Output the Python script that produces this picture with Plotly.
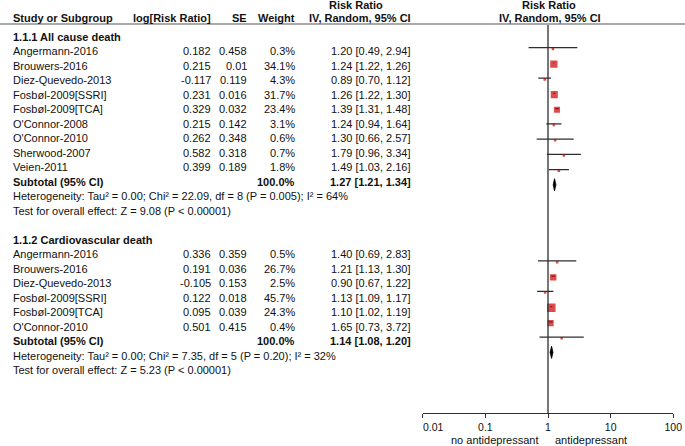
import plotly.graph_objects as go

# ---------------- data ----------------
group1_title = "1.1.1 All cause death"
studies1 = ["Angermann-2016", "Brouwers-2016", "Diez-Quevedo-2013", "Fosbøl-2009[SSRI]",
            "Fosbøl-2009[TCA]", "O'Connor-2008", "O'Connor-2010", "Sherwood-2007", "Veien-2011"]
logrr1 = [0.182, 0.215, -0.117, 0.231, 0.329, 0.215, 0.262, 0.582, 0.399]
se1 = [0.458, 0.01, 0.119, 0.016, 0.032, 0.142, 0.348, 0.318, 0.189]
weight1 = [0.3, 34.1, 4.3, 31.7, 23.4, 3.1, 0.6, 0.7, 1.8]
rr1 = [1.20, 1.24, 0.89, 1.26, 1.39, 1.24, 1.30, 1.79, 1.49]
lo1 = [0.49, 1.22, 0.70, 1.22, 1.31, 0.94, 0.66, 0.96, 1.03]
hi1 = [2.94, 1.26, 1.12, 1.30, 1.48, 1.64, 2.57, 3.34, 2.16]
sub1 = [1.27, 1.21, 1.34]
het1 = "Heterogeneity: Tau² = 0.00; Chi² = 22.09, df = 8 (P = 0.005); I² = 64%"
test1 = "Test for overall effect: Z = 9.08 (P < 0.00001)"

group2_title = "1.1.2 Cardiovascular death"
studies2 = ["Angermann-2016", "Brouwers-2016", "Diez-Quevedo-2013", "Fosbøl-2009[SSRI]",
            "Fosbøl-2009[TCA]", "O'Connor-2010"]
logrr2 = [0.336, 0.191, -0.105, 0.122, 0.095, 0.501]
se2 = [0.359, 0.036, 0.153, 0.018, 0.039, 0.415]
weight2 = [0.5, 26.7, 2.5, 45.7, 24.3, 0.4]
rr2 = [1.40, 1.21, 0.90, 1.13, 1.10, 1.65]
lo2 = [0.69, 1.13, 0.67, 1.09, 1.02, 0.73]
hi2 = [2.83, 1.30, 1.22, 1.17, 1.19, 3.72]
sub2 = [1.14, 1.08, 1.20]
het2 = "Heterogeneity: Tau² = 0.00; Chi² = 7.35, df = 5 (P = 0.20); I² = 32%"
test2 = "Test for overall effect: Z = 5.23 (P < 0.00001)"

tick_vals = [0.01, 0.1, 1, 10, 100]
tick_labels = ["0.01", "0.1", "1", "10", "100"]
left_label = "no antidepressant"
right_label = "antidepressant"

# ---------------- layout constants ----------------
W, H = 685, 446
FONT = "Liberation Sans, Arial, sans-serif"
TXT = "#111111"
LINE = "#2e2e2e"
RED = "#cc0000"
FS = 11


def px(x):
    return x / W


def py(y):
    return 1 - y / H


groups = [
    dict(title=group1_title, studies=studies1, logrr=logrr1, se=se1, w=weight1,
         rr=rr1, lo=lo1, hi=hi1, sub=sub1, het=het1, test=test1),
    dict(title=group2_title, studies=studies2, logrr=logrr2, se=se2, w=weight2,
         rr=rr2, lo=lo2, hi=hi2, sub=sub2, het=het2, test=test2),
]

fig = go.Figure()
ann = []


def text(x, y, s, anchor="left", bold=False, yref="y2", size=FS):
    ann.append(dict(x=px(x), xref="paper", y=y, yref=yref, text=(f"<b>{s}</b>" if bold else s),
                    showarrow=False, xanchor=anchor, yanchor="middle",
                    font=dict(family=FONT, size=size, color=TXT)))


row = 0
for g in groups:
    text(11, row, g["title"], bold=True)
    row += 1
    ci_x, ci_y = [], []
    mk_x, mk_y, mk_s = [], [], []
    for i, name in enumerate(g["studies"]):
        text(11, row, name)
        text(213, row, str(g["logrr"][i]), anchor="right")
        text(249, row, str(g["se"][i]), anchor="right")
        text(297, row, f"{g['w'][i]:.1f}%", anchor="right")
        text(413, row, f"{g['rr'][i]:.2f} [{g['lo'][i]:.2f}, {g['hi'][i]:.2f}]", anchor="right")
        ci_x += [g["lo"][i], g["hi"][i], None]
        ci_y += [row, row, None]
        mk_x.append(g["rr"][i])
        mk_y.append(row + 0.08)
        mk_s.append(max(2.5, 1.25 * g["w"][i] ** 0.5))
        row += 1
    fig.add_trace(go.Scatter(x=ci_x, y=ci_y, mode="lines", line=dict(color=LINE, width=1.3),
                             hoverinfo="skip", xaxis="x", yaxis="y"))
    fig.add_trace(go.Scatter(x=mk_x, y=mk_y, mode="markers",
                             marker=dict(symbol="square", size=mk_s, color=RED, line=dict(width=0)),
                             hoverinfo="skip", xaxis="x", yaxis="y"))
    est, lo, hi = g["sub"]
    text(11, row, "Subtotal (95% CI)", bold=True)
    text(297, row, "100.0%", anchor="right", bold=True)
    text(413, row, f"{est:.2f} [{lo:.2f}, {hi:.2f}]", anchor="right", bold=True)
    h = 0.4
    fig.add_trace(go.Scatter(x=[lo, est, hi, est, lo], y=[row, row - h, row, row + h, row],
                             mode="lines", fill="toself", fillcolor="black",
                             line=dict(color="black", width=0.8), hoverinfo="skip",
                             xaxis="x", yaxis="y"))
    row += 1
    text(11, row, g["het"])
    row += 1
    text(11, row, g["test"])
    row += 2

fig.add_trace(go.Scatter(x=[1], y=[0], mode="markers", opacity=0, hoverinfo="skip",
                         xaxis="x", yaxis="y2"))

# headers
text(356, py(5.5), "Risk Ratio", anchor="center", bold=True, yref="paper")
text(549, py(5.5), "Risk Ratio", anchor="center", bold=True, yref="paper")
for x, s, a in [(11, "Study or Subgroup", "left"), (213, "log[Risk Ratio]", "right"),
                (249, "SE", "right"), (297, "Weight", "right"),
                (360, "IV, Random, 95% CI", "center"), (550, "IV, Random, 95% CI", "center")]:
    text(x, py(18), s, anchor=a, bold=True, yref="paper")

# bottom labels
text(540, py(439.5), left_label, anchor="right", yref="paper")
text(553, py(439.5), right_label, anchor="left", yref="paper")

# row-index axes: graphics rows spaced 15.23 px from 47.7 px; text rows 14.5 px from 51 px
g0, gs = 47.7, 15.23
t0, ts = 51.0, 14.5
yg_range = [(H - g0) / gs + 1, 1 - g0 / gs]
yt_range = [(H - t0) / ts + 1, 1 - t0 / ts]

pad = "\u2003\u2003"
tick_text = [pad + tick_labels[0]] + tick_labels[1:]

axis_px = 413
fig.update_layout(
    width=W, height=H, margin=dict(l=0, r=0, t=0, b=0, autoexpand=False),
    paper_bgcolor="white", plot_bgcolor="rgba(0,0,0,0)", showlegend=False,
    xaxis=dict(type="log", range=[-2, 2], domain=[px(422.7), px(673.3)],
               anchor="free", position=(H - axis_px) / H, automargin=False,
               showline=True, linecolor=LINE, linewidth=1.3,
               ticks="outside", ticklen=4, tickwidth=1.3, tickcolor=LINE,
               tickvals=tick_vals, ticktext=tick_text, ticklabeloverflow="allow",
               tickfont=dict(family=FONT, size=10.5, color=TXT),
               showgrid=False, zeroline=False, fixedrange=True),
    yaxis=dict(range=yg_range, domain=[0, 1], visible=False, fixedrange=True),
    yaxis2=dict(range=yt_range, domain=[0, 1], overlaying="y", visible=False, fixedrange=True),
    annotations=ann,
    shapes=[
        dict(type="line", xref="paper", yref="paper", x0=0, x1=1, y0=py(24), y1=py(24),
             line=dict(color="#555555", width=1.2)),
        dict(type="line", xref="x", yref="paper", x0=1, x1=1, y0=py(axis_px), y1=py(25),
             line=dict(color=LINE, width=1.3)),
    ],
)

fig.write_html("out.html", config={"displayModeBar": False},
               post_script="document.body.style.margin='0px';document.body.style.overflow='hidden';")
